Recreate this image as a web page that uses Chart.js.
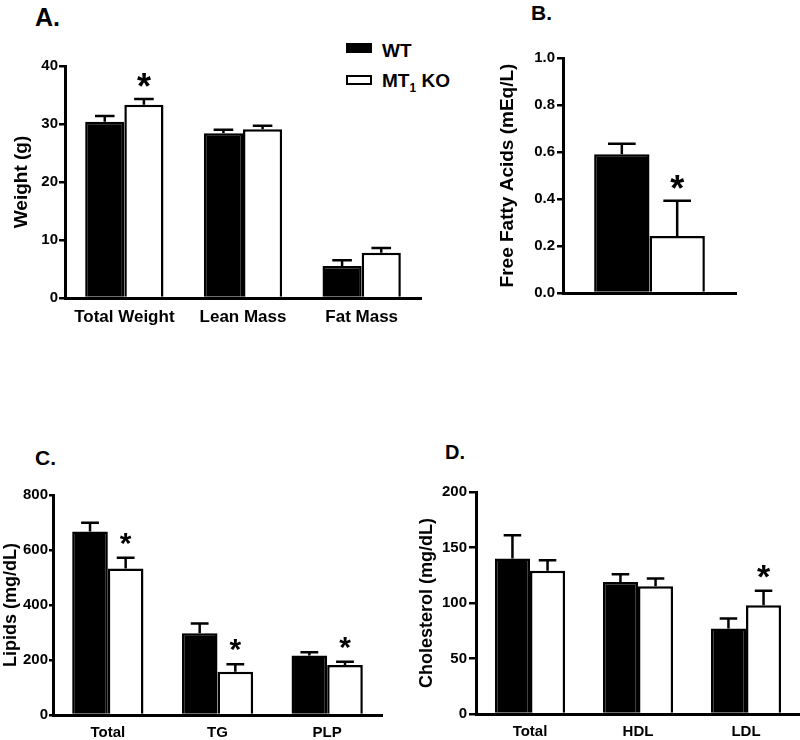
<!DOCTYPE html>
<html>
<head>
<meta charset="utf-8">
<script src="https://cdn.jsdelivr.net/npm/chart.js@4.4.1/dist/chart.umd.min.js"></script>
<style>
body { margin: 0; background: #fff; width: 800px; height: 740px; position: relative; overflow: hidden;
  font-family: 'Liberation Sans', Arial, sans-serif; font-weight: bold; color: #000; }
canvas { position: absolute; }
.lbl { position: absolute; line-height: 1; font-weight: bold; white-space: nowrap; }
.box { position: absolute; width: 26px; height: 10px; box-sizing: border-box; }
</style>
</head>
<body>
<div class="lbl" style="left:35px;top:5px;font-size:25px">A.</div>
<div class="lbl" style="left:531px;top:2px;font-size:21px">B.</div>
<div class="lbl" style="left:35px;top:447px;font-size:21px">C.</div>
<div class="lbl" style="left:445px;top:442px;font-size:20px">D.</div>

<div class="box" style="left:346px;top:43px;background:#000"></div>
<div class="lbl" style="left:382px;top:41px;font-size:19px">WT</div>
<div class="box" style="left:346px;top:75px;border:2.5px solid #000;background:#fff"></div>
<div class="lbl" style="left:382px;top:71px;font-size:19px">MT<sub style="font-size:12px">1</sub> KO</div>

<canvas id="chartA" width="440" height="310" style="left:0;top:30px"></canvas>
<canvas id="chartB" width="320" height="310" style="left:480px;top:30px"></canvas>
<canvas id="chartC" width="400" height="270" style="left:0;top:470px"></canvas>
<canvas id="chartD" width="400" height="270" style="left:400px;top:470px"></canvas>

<script>
// data (mean, upper SEM), star = significant vs WT
var catsA = ["Total Weight", "Lean Mass", "Fat Mass"];
var wtA = [30.4, 28.4, 5.5];
var wtErrA = [1.0, 0.6, 1.0];
var koA = [33.3, 29.1, 7.8];
var koErrA = [1.0, 0.6, 0.8];
var starA = [1, 0, 0];
var ticksA = [0, 10, 20, 30, 40];

var catsB = [""];
var wtB = [0.59];
var wtErrB = [0.045];
var koB = [0.243];
var koErrB = [0.15];
var starB = [1];
var ticksB = [0, 0.2, 0.4, 0.6, 0.8, 1.0];

var catsC = ["Total", "TG", "PLP"];
var wtC = [667, 297, 216];
var wtErrC = [32, 36, 12];
var koC = [533, 157, 182];
var koErrC = [39, 28, 12];
var starC = [1, 1, 1];
var ticksC = [0, 200, 400, 600, 800];

var catsD = ["Total", "HDL", "LDL"];
var wtD = [140, 119, 77];
var wtErrD = [21, 7, 9];
var koD = [129, 115, 98];
var koErrD = [9.5, 7, 13];
var starD = [0, 0, 1];
var ticksD = [0, 50, 100, 150, 200];

Chart.defaults.font.family = "'Liberation Sans', Arial, sans-serif";
Chart.defaults.font.weight = "bold";
Chart.defaults.color = "#000";

var errBars = {
	id: "errBars",
	afterDatasetsDraw: function (chart, args, opts) {
		var ctx = chart.ctx;
		var y = chart.scales.y;
		ctx.save();
		ctx.strokeStyle = "#000";
		ctx.fillStyle = "#000";
		ctx.lineWidth = 2.5;
		chart.data.datasets.forEach(function (ds, i) {
			var meta = chart.getDatasetMeta(i);
			meta.data.forEach(function (bar, j) {
				var top = y.getPixelForValue(ds.data[j] + ds.err[j]);
				var half = bar.width * 0.25;
				ctx.beginPath();
				ctx.moveTo(bar.x, bar.y);
				ctx.lineTo(bar.x, top);
				ctx.moveTo(bar.x - half, top);
				ctx.lineTo(bar.x + half, top);
				ctx.stroke();
				if (ds.star && ds.star[j]) {
					ctx.font = "bold " + opts.starSize + "px 'Liberation Sans', Arial";
					ctx.textAlign = "center";
					ctx.textBaseline = "alphabetic";
					var m = ctx.measureText("*");
					var cy = top - opts.gap;
					var base = cy - (m.actualBoundingBoxDescent - m.actualBoundingBoxAscent) / 2;
					ctx.fillText("*", bar.x, base);
				}
			});
		});
		ctx.restore();
	}
};

function panel(id, p) {
	var ctx = document.getElementById(id).getContext("2d");
	return new Chart(ctx, {
		type: "bar",
		data: {
			labels: p.cats,
			datasets: [
				{ label: "WT", data: p.wt, err: p.wtErr, backgroundColor: "#000", borderColor: "#000", borderWidth: 2.5 },
				{ label: "MT1 KO", data: p.ko, err: p.koErr, star: p.star, backgroundColor: "#fff", borderColor: "#000", borderWidth: 2.5 },
			],
		},
		plugins: [errBars],
		options: {
			responsive: false,
			animation: false,
			devicePixelRatio: 1,
			categoryPercentage: p.cp,
			barPercentage: 1,
			layout: { padding: { top: p.pt, right: p.pr, left: 0, bottom: 0 } },
			plugins: {
				legend: { display: false },
				tooltip: { enabled: false },
				errBars: { starSize: p.star_px, gap: 19 },
			},
			scales: {
				x: {
					grid: { display: false, drawTicks: false },
					border: { display: true, color: "#000", width: 3 },
					ticks: { display: p.cats[0] !== "", padding: 9, color: "#000", font: { size: p.catSize, weight: "bold" } },
					afterFit: function (s) { s.height = p.xh; },
				},
				y: {
					min: p.ticks[0],
					max: p.ticks[p.ticks.length - 1],
					grid: { display: true, drawOnChartArea: false, drawTicks: true, tickLength: p.tl, color: "#000", tickColor: "#000", lineWidth: 2.5 },
					border: { display: true, color: "#000", width: 3 },
					ticks: {
						stepSize: p.ticks[1] - p.ticks[0],
						padding: p.tp,
						color: "#000",
						font: { size: 15, weight: "bold" },
						callback: function (v) { return p.dec ? v.toFixed(p.dec) : v; },
					},
					title: { display: true, text: p.title, color: "#000", font: { size: p.titleSize, weight: "bold" }, padding: { top: p.tpad, bottom: 0 } },
					afterFit: function (s) { s.width = p.yw; },
				},
			},
		},
	});
}

panel("chartA", { cats: catsA, wt: wtA, wtErr: wtErrA, ko: koA, koErr: koErrA, star: starA, ticks: ticksA,
	title: "Weight (g)", titleSize: 19, tpad: 10, catSize: 17, cp: 0.66, pt: 36, pr: 19, yw: 65, xh: 42, star_px: 36, tl: 6, tp: 1 });
panel("chartB", { cats: catsB, wt: wtB, wtErr: wtErrB, ko: koB, koErr: koErrB, star: starB, ticks: ticksB, dec: 1,
	title: "Free Fatty Acids (mEq/L)", titleSize: 19, tpad: 16, catSize: 17, cp: 0.64, pt: 28, pr: 64, yw: 83, xh: 47, star_px: 36, tl: 6, tp: 2 });
panel("chartC", { cats: catsC, wt: wtC, wtErr: wtErrC, ko: koC, koErr: koErrC, star: starC, ticks: ticksC,
	title: "Lipids (mg/dL)", titleSize: 18, tpad: 0, catSize: 15, cp: 0.65, pt: 25, pr: 18, yw: 53, xh: 25, star_px: 30, tl: 4, tp: 1 });
panel("chartD", { cats: catsD, wt: wtD, wtErr: wtErrD, ko: koD, koErr: koErrD, star: starD, ticks: ticksD,
	title: "Cholesterol (mg/dL)", titleSize: 18, tpad: 16, catSize: 15, cp: 0.65, pt: 22, pr: 0, yw: 76, xh: 26, star_px: 34, tl: 7, tp: 2 });
</script>
</body>
</html>
